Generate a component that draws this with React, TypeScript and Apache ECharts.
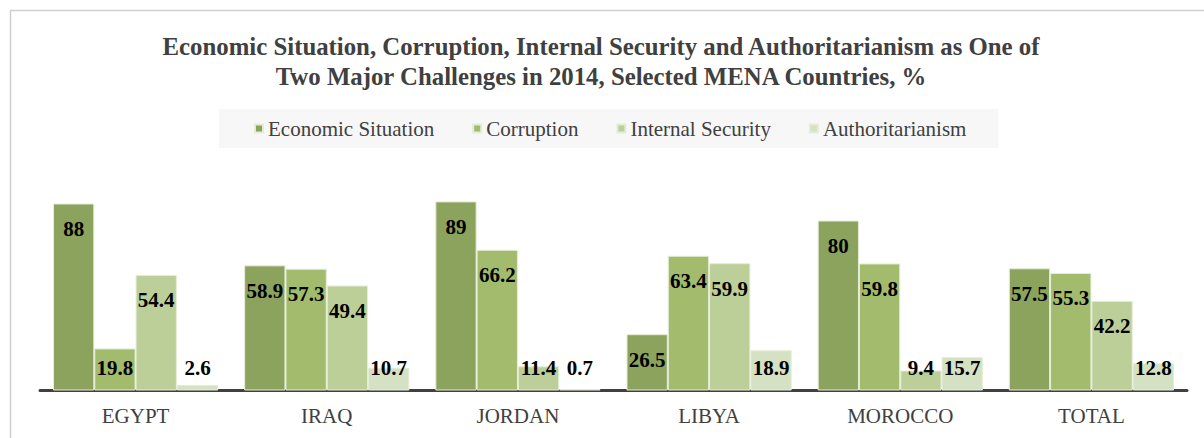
import React, { useEffect, useRef } from "react";
import * as echarts from "echarts";

const categories = ["EGYPT", "IRAQ", "JORDAN", "LIBYA", "MOROCCO", "TOTAL"];
const seriesNames = ["Economic Situation", "Corruption", "Internal Security", "Authoritarianism"];
const economic = [88, 58.9, 89, 26.5, 80, 57.5];
const corruption = [19.8, 57.3, 66.2, 63.4, 59.8, 55.3];
const security = [54.4, 49.4, 11.4, 59.9, 9.4, 42.2];
const authoritarianism = [2.6, 10.7, 0.7, 18.9, 15.7, 12.8];
const colors = ["#8ca35e", "#a3bb6c", "#bdcf98", "#d5e1c3"];
const titleText =
  "Economic Situation, Corruption, Internal Security and Authoritarianism as One of\nTwo Major Challenges in 2014, Selected MENA Countries, %";

const SERIF = "'Times New Roman', 'Liberation Serif', serif";

function makeData(values: number[]) {
  return values.map((v) => ({
    value: v,
    label:
      v < 22.8
        ? { position: "insideBottom", distance: 12 }
        : { position: "insideTop", distance: 15 },
  }));
}

export default function App() {
  const ref = useRef<HTMLDivElement>(null);
  useEffect(() => {
    if (!ref.current) return;
    const chart = echarts.init(ref.current, null, { renderer: "svg" });
    const allValues = [economic, corruption, security, authoritarianism];
    chart.setOption({
      animation: false,
      backgroundColor: "#ffffff",
      legend: {
        left: 219,
        top: 109,
        backgroundColor: "#f7f7f7",
        padding: [9, 32, 9, 35],
        itemWidth: 8,
        itemHeight: 8,
        itemGap: 38,
        icon: "rect",
        textStyle: { fontFamily: SERIF, fontSize: 21, color: "#404040" },
        data: seriesNames,
      },
      graphic: [
        {
          type: "rect",
          shape: { x: 10.5, y: 10.5, width: 1210, height: 440 },
          style: { fill: "none", stroke: "#cfcfcf", lineWidth: 1.5 },
          silent: true,
        },
        {
          type: "text",
          x: 601,
          y: 31,
          silent: true,
          style: {
            text: titleText,
            textAlign: "center",
            textVerticalAlign: "top",
            fontFamily: SERIF,
            fontWeight: "bold",
            fontSize: 24.8,
            lineHeight: 30,
            fill: "#404040",
          },
        },
      ],
      grid: { left: 40, right: 17, top: 178, bottom: 47.5 },
      xAxis: {
        type: "category",
        data: categories,
        axisTick: { show: false },
        axisLine: { lineStyle: { color: "#404040", width: 3 } },
        axisLabel: { fontFamily: SERIF, fontSize: 21, color: "#404040", margin: 15 },
      },
      yAxis: {
        type: "value",
        min: 0,
        max: 100,
        show: false,
        splitLine: { show: false },
      },
      series: seriesNames.map((name, i) => ({
        name,
        type: "bar",
        barGap: "0%",
        barCategoryGap: "13.6%",
        itemStyle: { color: colors[i], borderColor: "#e4ecd8", borderWidth: 1 },
        label: {
          show: true,
          fontFamily: SERIF,
          fontWeight: "bold",
          fontSize: 21,
          color: "#000000",
        },
        data: makeData(allValues[i]),
      })),
    });
    return () => chart.dispose();
  }, []);
  return (
    <div
      ref={ref}
      style={{ position: "absolute", left: 0, top: 0, width: 1204, height: 438 }}
    />
  );
}
